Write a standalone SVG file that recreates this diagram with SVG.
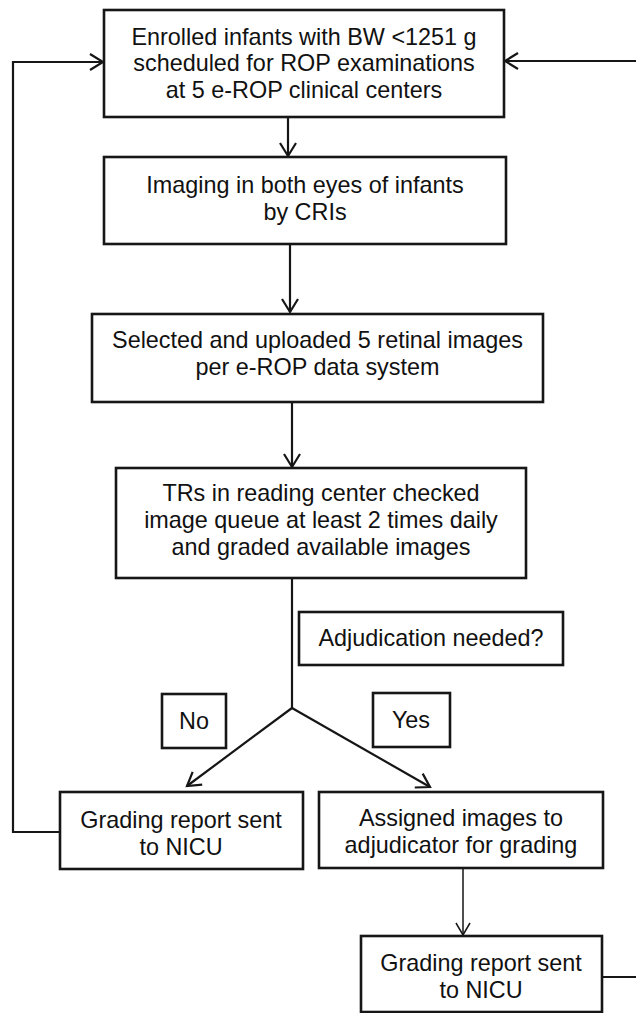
<svg xmlns="http://www.w3.org/2000/svg" width="636" height="1013" viewBox="0 0 636 1013">
  <style>
    .box { fill: #ffffff; stroke: #161616; stroke-width: 2.6; }
    .lbl { font-family: "Liberation Sans", Arial, sans-serif; font-size: 23.4px; fill: #111111; text-anchor: middle; }
    .wire { fill: none; stroke: #161616; stroke-width: 2.2; }
    .thin { fill: none; stroke: #161616; stroke-width: 1.5; }
  </style>
  <defs>
    <marker id="arrow" markerUnits="userSpaceOnUse" viewBox="-16 -16 32 32" markerWidth="32" markerHeight="32" refX="0" refY="0" orient="auto">
      <path d="M-13,-8 L0,0 L-13,8" fill="none" stroke="#161616" stroke-width="2.2"/>
    </marker>
    <marker id="arrowThin" markerUnits="userSpaceOnUse" viewBox="-16 -16 32 32" markerWidth="32" markerHeight="32" refX="0" refY="0" orient="auto">
      <path d="M-12,-7 L0,0 L-12,7" fill="none" stroke="#161616" stroke-width="1.5"/>
    </marker>
  </defs>

  <!-- connectors -->
  <g id="connectors">
    <line class="wire" x1="288" y1="117" x2="288" y2="156" marker-end="url(#arrow)"/>
    <line class="wire" x1="290" y1="244" x2="290" y2="312" marker-end="url(#arrow)"/>
    <line class="wire" x1="292" y1="402" x2="292" y2="467" marker-end="url(#arrow)"/>
    <polyline class="wire" points="292,578 292,708"/>
    <line class="wire" x1="292" y1="708" x2="187" y2="786" marker-end="url(#arrow)"/>
    <line class="wire" x1="292" y1="708" x2="430" y2="787" marker-end="url(#arrow)"/>
    <line class="thin" x1="463" y1="868" x2="463" y2="935" marker-end="url(#arrowThin)"/>
    <!-- report loops back to enrolment -->
    <polyline class="wire" points="60,832 13,832 13,62 103,62" marker-end="url(#arrow)"/>
    <polyline class="wire" points="602,977 640,977 640,61 505,61" marker-end="url(#arrow)"/>
  </g>

  <g id="enrolled">
    <rect class="box" x="104" y="10" width="400" height="107"/>
    <text class="lbl" x="304" y="45">Enrolled infants with BW &lt;1251 g</text>
    <text class="lbl" x="304" y="71">scheduled for ROP examinations</text>
    <text class="lbl" x="304" y="98">at 5 e-ROP clinical centers</text>
  </g>

  <g id="imaging">
    <rect class="box" x="104" y="157" width="402" height="87"/>
    <text class="lbl" x="305" y="193">Imaging in both eyes of infants</text>
    <text class="lbl" x="305" y="220">by CRIs</text>
  </g>

  <g id="upload">
    <rect class="box" x="92" y="314" width="451" height="88"/>
    <text class="lbl" x="317.5" y="348">Selected and uploaded 5 retinal images</text>
    <text class="lbl" x="317.5" y="375">per e-ROP data system</text>
  </g>

  <g id="reading">
    <rect class="box" x="116" y="468" width="410" height="110"/>
    <text class="lbl" x="321" y="501">TRs in reading center checked</text>
    <text class="lbl" x="321" y="528">image queue at least 2 times daily</text>
    <text class="lbl" x="321" y="555">and graded available images</text>
  </g>

  <g id="adjudication-q">
    <rect class="box" x="299" y="612" width="264" height="53"/>
    <text class="lbl" x="431" y="646">Adjudication needed?</text>
  </g>

  <g id="no">
    <rect class="box" x="162" y="694" width="64" height="54"/>
    <text class="lbl" x="194" y="729">No</text>
  </g>

  <g id="yes">
    <rect class="box" x="373" y="693" width="77" height="54"/>
    <text class="lbl" x="411" y="728">Yes</text>
  </g>

  <g id="report-left">
    <rect class="box" x="60" y="792" width="243" height="77"/>
    <text class="lbl" x="181" y="828">Grading report sent</text>
    <text class="lbl" x="181" y="855">to NICU</text>
  </g>

  <g id="assign">
    <rect class="box" x="319" y="792" width="284" height="76"/>
    <text class="lbl" x="461" y="826">Assigned images to</text>
    <text class="lbl" x="461" y="853">adjudicator for grading</text>
  </g>

  <g id="report-right">
    <rect class="box" x="361" y="936" width="241" height="76"/>
    <text class="lbl" x="481" y="971">Grading report sent</text>
    <text class="lbl" x="481" y="998">to NICU</text>
  </g>
</svg>
